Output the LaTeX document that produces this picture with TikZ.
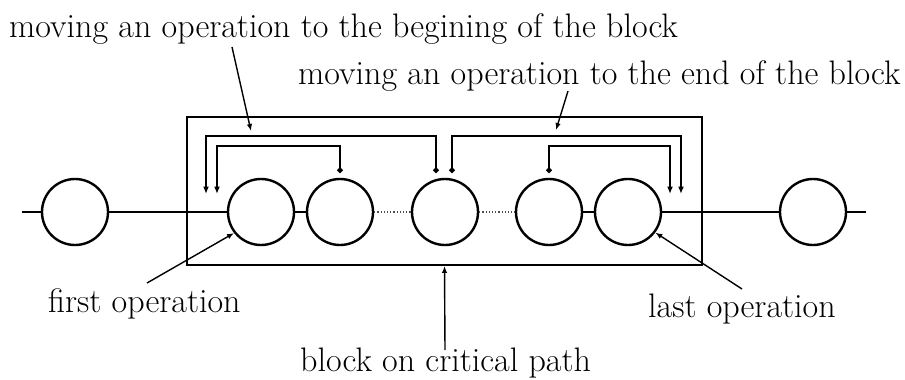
\documentclass[tikz,border=0pt]{standalone}
\usetikzlibrary{arrows.meta}
\begin{document}
\begin{tikzpicture}[x=1pt,y=-1pt,
  op/.style={circle,draw,line width=2.4pt,minimum size=66pt,inner sep=0pt,fill=white},
  wire/.style={line width=1.5pt},
  weak/.style={line width=1.2pt,dotted,black!70},
  blockbox/.style={draw,line width=1.8pt,minimum width=515pt,minimum height=148pt,inner sep=0pt},
  move/.style={line width=1.8pt,{Circle[length=5.5pt]}-{Latex[length=7.5pt,width=6pt]}},
  pointer/.style={line width=1.4pt,-{Latex[length=7pt,width=5.5pt]}},
  lbl/.style={anchor=base west,inner sep=0pt,font=\fontsize{34}{40}\selectfont}]
\useasboundingbox (0,0) rectangle (905,380);

% block on the critical path
\node[blockbox] (blk) at (444.5,191) {};

% operations
\node[op] (c0) at (75,212) {};
\node[op] (c1) at (261,212) {};
\node[op] (c2) at (340,212) {};
\node[op] (c3) at (445,212) {};
\node[op] (c4) at (549,212) {};
\node[op] (c5) at (628,212) {};
\node[op] (c6) at (813,212) {};
\coordinate (lend) at (22,212);
\coordinate (rend) at (866,212);

\draw[wire] (lend) -- (c0);
\draw[wire] (c0) -- (c1);
\draw[wire] (c1) -- (c2);
\draw[weak] (c2) -- (c3);
\draw[weak] (c3) -- (c4);
\draw[wire] (c4) -- (c5);
\draw[wire] (c5) -- (c6);
\draw[wire] (c6) -- (rend);

% moves towards the beginning of the block
\coordinate (b1s) at (436,173);
\coordinate (b1e) at (206,194);
\coordinate (b2s) at (340,173);
\coordinate (b2e) at (217,194);
\draw[move] (b1s) -- ++(0,-37) -| (b1e);
\draw[move] (b2s) -- ++(0,-27) -| (b2e);

% moves towards the end of the block
\coordinate (e1s) at (452,173);
\coordinate (e1e) at (681,194);
\coordinate (e2s) at (549,173);
\coordinate (e2e) at (670,194);
\draw[move] (e1s) -- ++(0,-37) -| (e1e);
\draw[move] (e2s) -- ++(0,-27) -| (e2e);

% labels
\node[lbl] (tbeg) at (9,37) {moving an operation to the begining of the block};
\node[lbl] (tend) at (298,84) {moving an operation to the end of the block};
\node[lbl] (tfirst) at (48,312) {first operation};
\node[lbl] (tlast) at (648,317) {last operation};
\node[lbl] (tcrit) at (300,371) {block on critical path};

\coordinate (pbeg) at (232,47);
\coordinate (qbeg) at (251,131);
\coordinate (pend) at (568,91);
\coordinate (qend) at (556,130);
\coordinate (pfirst) at (147,283);
\coordinate (plast) at (742,289);
\coordinate (pcrit) at (445,350);

\draw[pointer] (pbeg) -- (qbeg);
\draw[pointer] (pend) -- (qend);
\draw[pointer] (pfirst) -- (c1.218);
\draw[pointer] (plast) -- (c5.-37);
\draw[pointer] (pcrit) -- (blk.south);
\end{tikzpicture}
\end{document}
